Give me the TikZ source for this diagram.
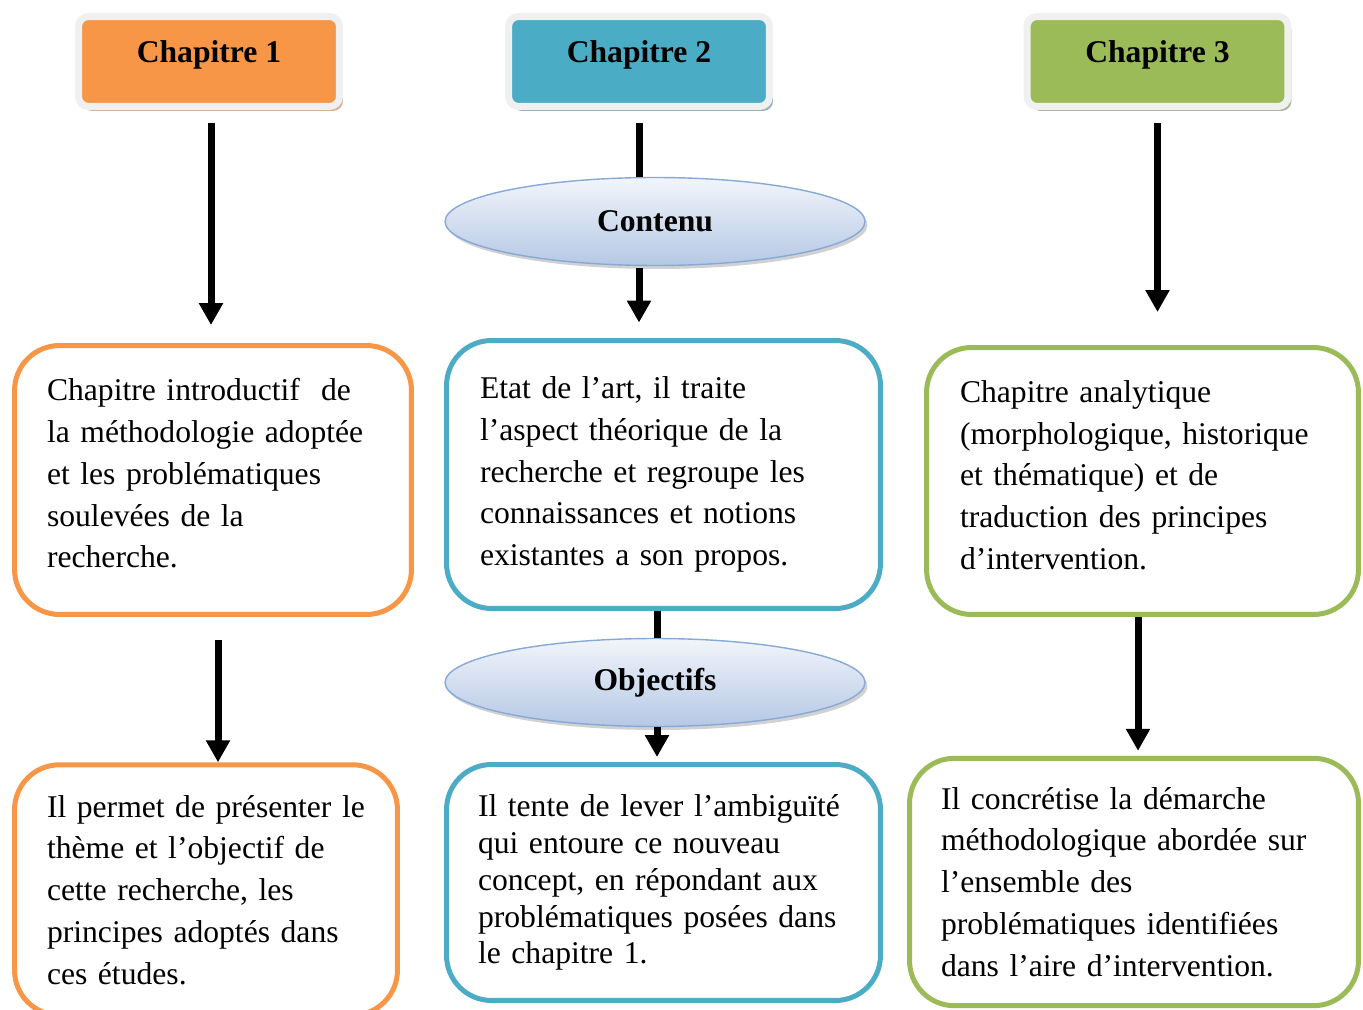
\documentclass[tikz,border=0pt]{standalone}
\usepackage{fontspec}
\setmainfont{Liberation Serif}
\usetikzlibrary{arrows.meta,shapes.geometric,shadows}

\definecolor{chorange}{HTML}{F79646}
\definecolor{chblue}{HTML}{4BACC6}
\definecolor{chgreen}{HTML}{9BBB59}
\definecolor{hdrframe}{HTML}{F0F0F0}
\definecolor{elltop}{HTML}{F2F5FB}
\definecolor{ellbot}{HTML}{B5C8E5}
\definecolor{ellline}{HTML}{86A9D8}

\begin{document}
\begin{tikzpicture}[x=0.02cm, y=-0.02cm,
  hdr/.style={rounded corners=0.2cm, draw=hdrframe, line width=0.14cm,
    minimum width=5.22cm, minimum height=1.8cm, inner sep=0pt,
    text height=10pt, text depth=8.8pt,
    font=\fontsize{18}{22}\selectfont\bfseries},
  ell/.style={ellipse, draw=ellline, line width=0.8pt, top color=elltop,
    bottom color=ellbot, minimum width=8.4cm, minimum height=1.76cm,
    font=\fontsize{18}{22}\selectfont\bfseries,
    drop shadow={shadow xshift=0.05cm, shadow yshift=-0.07cm, fill=black!45, opacity=0.4}},
  txtbox/.style={rounded corners=0.9cm, line width=0.1cm, fill=white,
    align=left, inner ysep=0pt, font=\fontsize{18}{23.8}\selectfont},
  arr/.style={line width=0.14cm, -{Triangle[width=0.46cm,length=0.44cm]}}]

  \clip (0,0) rectangle (1363,1010);

  % chapter headers
  \node[hdr, fill=chorange, drop shadow={shadow xshift=0.07cm, shadow yshift=-0.09cm, fill=chorange!70!black, opacity=0.5}]
    (hdr1) at (209,61.5) {Chapitre 1};
  \node[hdr, fill=chblue, drop shadow={shadow xshift=0.07cm, shadow yshift=-0.09cm, fill=chblue!60!black, opacity=0.5}]
    (hdr2) at (639,61.5) {Chapitre 2};
  \node[hdr, fill=chgreen, drop shadow={shadow xshift=0.07cm, shadow yshift=-0.09cm, fill=chgreen!60!black, opacity=0.5}]
    (hdr3) at (1157.5,61.5) {Chapitre 3};

  % first row of boxes
  \node[txtbox, draw=chorange, minimum width=7.94cm, minimum height=5.38cm,
        inner xsep=0.65cm, text width=6.64cm, text depth=103pt] (box1) at (213,480)
    {Chapitre introductif \ de\\ la méthodologie adoptée\\ et les problématiques\\
     soulevées de la\\ recherche.};
  \node[txtbox, draw=chblue, minimum width=8.68cm, minimum height=5.36cm,
        inner xsep=0.67cm, text width=7.34cm] (box2) at (663.5,474.5)
    {Etat de l’art, il traite\\ l’aspect théorique de la\\ recherche et regroupe les\\
     connaissances et notions\\ existantes a son propos.};
  \node[txtbox, draw=chgreen, minimum width=8.64cm, minimum height=5.34cm,
        inner xsep=0.67cm, text width=7.30cm, text depth=102pt] (box3) at (1142.5,481)
    {Chapitre analytique\\ (morphologique, historique\\ et thématique) et de\\
     traduction des principes\\ d’intervention.};

  % second row of boxes
  \node[txtbox, draw=chorange, minimum width=7.66cm, minimum height=5.01cm,
        inner xsep=0.65cm, text width=6.36cm] (box4) at (206,890)
    {Il permet de présenter le\\ thème et l’objectif de\\ cette recherche, les\\
     principes adoptés dans\\ ces études.};
  \node[txtbox, draw=chblue, minimum width=8.68cm, minimum height=4.72cm,
        inner xsep=0.63cm, text width=7.42cm, font=\fontsize{18}{21}\selectfont]
    (box5) at (663.5,882.5)
    {Il tente de lever l’ambiguïté\\ qui entoure ce nouveau\\ concept, en répondant aux\\
     problématiques posées dans\\ le chapitre 1.};
  \node[txtbox, draw=chgreen, minimum width=8.98cm, minimum height=4.95cm,
        inner xsep=0.63cm, text width=7.72cm] (box6) at (1134,882)
    {Il concrétise la démarche\\ méthodologique abordée sur\\ l’ensemble des\\
     problématiques identifiées\\ dans l’aire d’intervention.};

  % ellipses
  \node[ell] (ell1) at (655,221.5) {Contenu};
  \node[ell] (ell2) at (655,682.5) {Objectifs};

  % links into the ellipses
  \draw[line width=0.14cm, shorten <=0.27cm] (hdr2.south) -- (hdr2.south |- ell1.north);
  \draw[line width=0.14cm] ([xshift=0.04cm]ell2.north |- box2.south) -- ([xshift=0.04cm]ell2.north);

  % arrows
  \draw[arr, shorten <=0.27cm, shorten >=0.36cm] ([xshift=0.04cm]hdr1.south)
    -- ([xshift=0.04cm]hdr1.south |- box1.north);
  \draw[arr, shorten <=0.04cm, shorten >=0.31cm] (hdr2.south |- ell1.south)
    -- (hdr2.south |- box2.north);
  \draw[arr, shorten <=0.27cm, shorten >=0.66cm] (hdr3.south) -- (hdr3.south |- box3.north);
  \draw[arr, shorten <=0.47cm] ([xshift=0.1cm]box1.south)
    -- ([xshift=0.1cm]box1.south |- box4.north);
  \draw[arr, shorten >=0.1cm] ([xshift=0.04cm]ell2.south) -- ([xshift=0.04cm]ell2.south |- box5.north);
  \draw[arr, shorten >=0.1cm] ([xshift=-0.09cm]box3.south)
    -- ([xshift=-0.09cm]box3.south |- box6.north);
\end{tikzpicture}
\end{document}
